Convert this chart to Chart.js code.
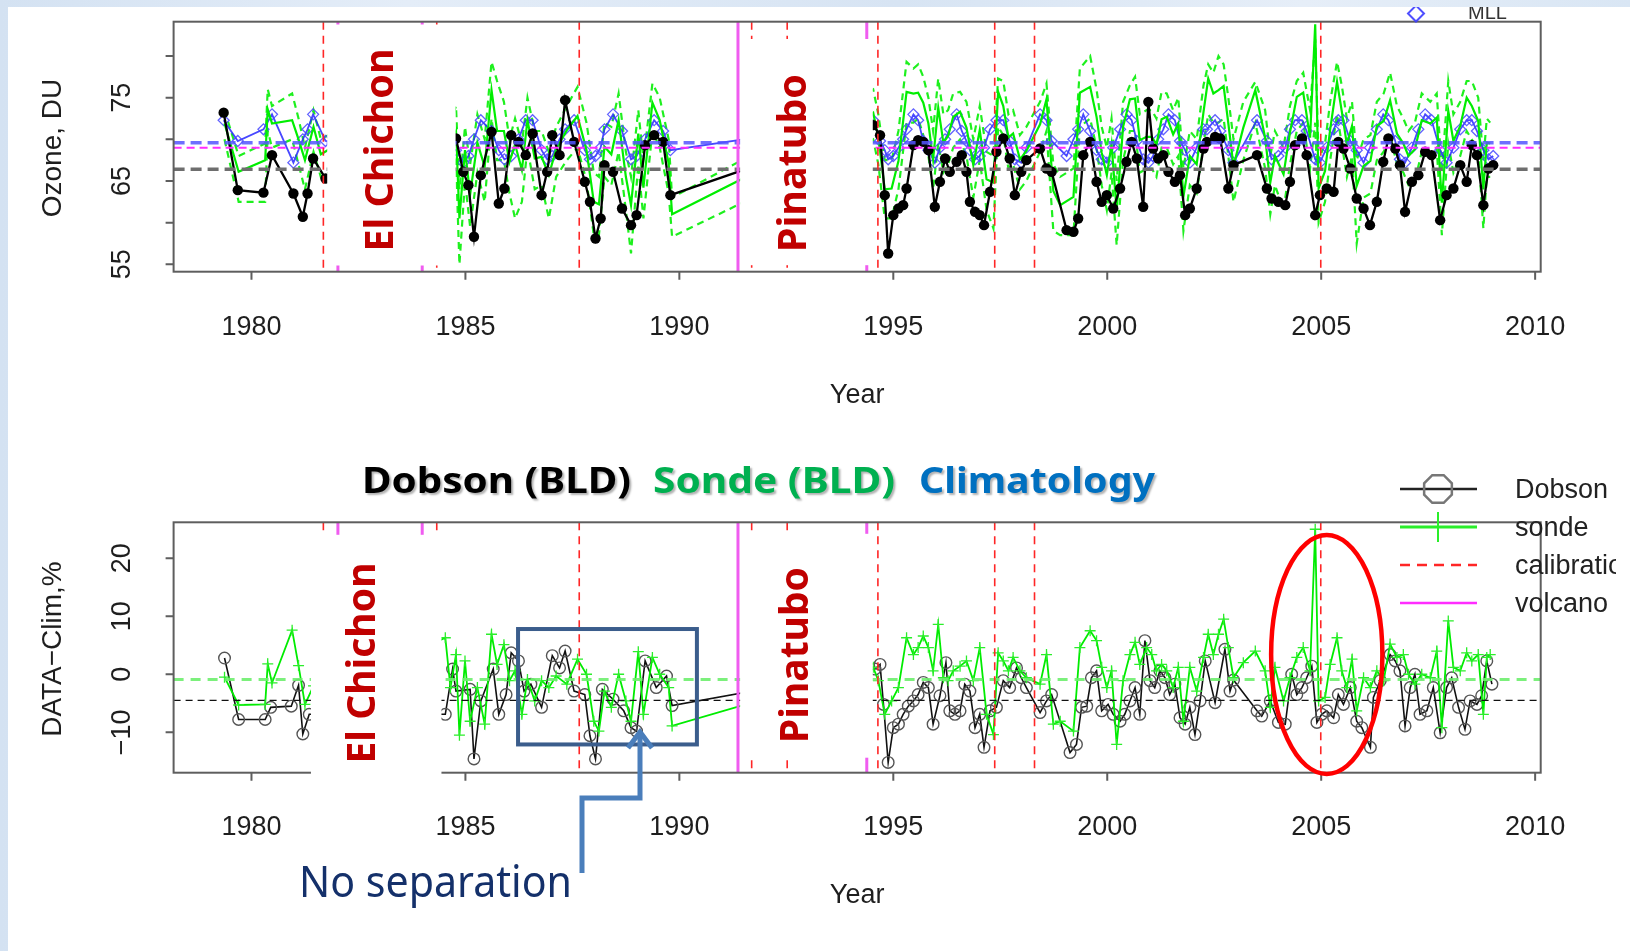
<!DOCTYPE html>
<html>
<head>
<meta charset="utf-8">
<script src="https://cdn.jsdelivr.net/npm/chart.js@4.4.1/dist/chart.umd.min.js"></script>
<style>
	html, body { margin: 0; padding: 0; width: 1630px; height: 951px; overflow: hidden; }
	body { background: linear-gradient(90deg, #d4e2f2 0%, #e4edf8 25%, #d7e4f3 55%, #e6eef8 80%, #d9e6f4 100%); }
	#sheet { position: absolute; left: 8px; top: 7px; width: 1622px; height: 944px; background: #fff; }
	canvas { position: absolute; left: 0; top: 0; }
</style>
</head>
<body>
<div id="sheet"></div>
<canvas id="ozone-du" width="1630" height="951"></canvas>
<canvas id="ozone-diff" width="1630" height="951"></canvas>
<script>
// ---- data ----
const xTickYears = [1980, 1985, 1990, 1995, 2000, 2005, 2010];
const topTickValues = [55, 60, 65, 70, 75, 80];
const topTickLabels = ['55', '', '65', '', '75', ''];
const diffTickValues = [-10, 0, 10, 20];
const diffTickLabels = ['\u221210', '0', '10', '20'];

const calibrationYears = [1981.68, 1984.33, 1987.66, 1991.69, 1992.52, 1994.64, 1997.37, 1998.30, 2004.99];
const volcanoYears = [1982.02, 1983.99, 1991.37, 1994.38];

// long-term means (dashed reference lines)
const meanClimDU = 69.6, meanSondeDU = 69.0, meanDobsonDU = 66.4;
const meanSondePct = -0.9, meanDobsonPct = -4.5;

// climatology, Jan..Dec
const climMonthlyDU = [68.0, 69.0, 70.0, 71.2, 72.3, 73.0, 72.3, 71.0, 69.8, 68.7, 67.6, 67.2];

const dobsonTopYears = [
	1979.35, 1979.68, 1980.28, 1980.48, 1980.98, 1981.20, 1981.31, 1981.44, 1981.73,
	1984.78, 1984.95, 1985.07, 1985.20, 1985.36, 1985.61, 1985.78, 1985.91, 1986.07, 1986.24,
	1986.41, 1986.57, 1986.78, 1986.91, 1987.03, 1987.20, 1987.33, 1987.54, 1987.79, 1987.91,
	1988.04, 1988.16, 1988.25, 1988.45, 1988.66, 1988.87, 1989.00, 1989.20, 1989.41, 1989.62,
	1989.79,
	1994.53, 1994.69, 1994.80, 1994.88, 1995.00, 1995.12, 1995.23, 1995.31, 1995.47, 1995.58,
	1995.70, 1995.82, 1995.97, 1996.09, 1996.21, 1996.32, 1996.48, 1996.60, 1996.71, 1996.79,
	1996.91, 1997.02, 1997.12, 1997.26, 1997.41, 1997.57, 1997.72, 1997.84, 1997.99, 1998.11,
	1998.43, 1998.58, 1998.70, 1999.05, 1999.21, 1999.32, 1999.44, 1999.60, 1999.75, 1999.87,
	1999.99, 2000.14, 2000.30, 2000.45, 2000.57, 2000.69, 2000.84, 2000.96, 2001.07, 2001.19,
	2001.31, 2001.43, 2001.58, 2001.70, 2001.82, 2001.93, 2002.09, 2002.25,
	2002.33, 2002.52, 2002.64, 2002.83, 2002.95, 2003.50, 2003.73, 2003.84, 2004.00, 2004.16,
	2004.27, 2004.39, 2004.55, 2004.66, 2004.86, 2004.97, 2005.13, 2005.29, 2005.40, 2005.52,
	2005.68, 2005.83, 2005.99, 2006.14, 2006.30, 2006.45, 2006.57, 2006.73, 2006.84, 2006.96,
	2007.12, 2007.27, 2007.43, 2007.58, 2007.78, 2007.93, 2008.09, 2008.25, 2008.40, 2008.52,
	2008.64, 2008.79, 2008.91, 2009.02
];
const dobsonTopDU = [
	73.2, 63.9, 63.6, 68.1, 63.5, 60.7, 63.5, 67.7, 65.3,
	70.1, 66.1, 64.5, 58.3, 65.7, 70.9, 62.3, 64.1, 70.5, 69.7,
	68.1, 70.7, 63.3, 66.1, 70.5, 68.1, 74.7, 69.7, 64.9, 62.5,
	58.1, 60.5, 66.9, 66.1, 61.7, 59.7, 60.9, 69.3, 70.5, 69.7,
	63.3,
	71.7, 70.5, 63.3, 56.3, 60.9, 61.7, 62.1, 64.1, 69.3, 69.9,
	69.7, 68.7, 61.9, 64.9, 67.7, 66.1, 67.3, 68.1, 66.1, 62.5,
	61.3, 60.9, 59.7, 63.7, 68.5, 70.1, 67.7, 63.3, 66.1, 67.5,
	68.9, 66.5, 66.1, 59.1, 58.9, 60.5, 68.1, 69.7, 64.9, 62.5,
	63.3, 61.7, 64.1, 67.3, 69.7, 67.7, 61.9, 74.5, 68.9, 67.7,
	68.1, 66.1, 64.9, 65.7, 60.9, 61.7, 64.1, 68.9,
	69.7, 70.3, 70.1, 64.1, 66.9, 68.1, 64.1, 62.9, 62.5, 62.1,
	64.9, 69.3, 70.1, 68.1, 60.9, 63.3, 64.1, 63.7, 69.7, 68.9,
	66.5, 62.9, 61.7, 59.7, 62.5, 67.3, 70.1, 68.9, 66.9, 61.3,
	64.9, 65.7, 68.5, 68.1, 60.3, 63.3, 64.1, 66.9, 64.9, 69.3,
	68.1, 62.1, 66.5, 66.9
];

const sondeYears = [
	1979.37, 1979.70, 1980.32, 1980.38, 1980.48, 1980.95, 1981.10, 1981.25, 1981.45, 1981.62,
	1984.53, 1984.65, 1984.78, 1984.86, 1984.99, 1985.11, 1985.28, 1985.45, 1985.61, 1985.74,
	1985.90, 1986.03, 1986.16, 1986.32, 1986.45, 1986.62, 1986.78, 1986.95, 1987.12, 1987.37,
	1987.62, 1987.83, 1988.00, 1988.12, 1988.25, 1988.41, 1988.58, 1988.75, 1988.87, 1989.04,
	1989.16, 1989.37, 1989.54, 1989.75, 1989.83,
	1994.53, 1994.65, 1994.80, 1994.96, 1995.12, 1995.31, 1995.47, 1995.58, 1995.70, 1995.82,
	1995.93, 1996.05, 1996.17, 1996.28, 1996.40, 1996.56, 1996.71, 1996.87, 1997.02, 1997.18,
	1997.34, 1997.45, 1997.57, 1997.69, 1997.80, 1997.96, 1998.11, 1998.43, 1998.58, 1998.74,
	1998.90, 1999.21, 1999.36, 1999.60, 1999.75, 1999.87, 1999.99, 2000.10, 2000.22, 2000.37,
	2000.53, 2000.65, 2000.76, 2000.92, 2001.04, 2001.15, 2001.27, 2001.39, 2001.54, 2001.66,
	2001.78, 2001.93, 2002.09, 2002.25, 2002.36, 2002.48, 2002.60, 2002.72, 2002.83, 2002.95,
	2003.18, 2003.46, 2003.69, 2003.81, 2003.92, 2004.12, 2004.27, 2004.43, 2004.58, 2004.74,
	2004.86, 2004.94, 2005.09, 2005.21, 2005.37, 2005.48, 2005.60, 2005.72, 2005.83, 2005.99,
	2006.15, 2006.30, 2006.46, 2006.61, 2006.77, 2006.92, 2007.04, 2007.19, 2007.35, 2007.55,
	2007.70, 2007.82, 2007.97, 2008.09, 2008.25, 2008.40, 2008.52, 2008.67, 2008.79, 2008.87,
	2008.95
];
const sondeTopDU = [
	71.9, 66.1, 67.5, 73.6, 71.9, 72.3, 70.0, 67.5, 71.5, 68.2,
	76.9, 69.4, 71.0, 60.5, 68.7, 63.4, 69.6, 66.7, 75.9, 71.0,
	71.0, 67.3, 69.4, 66.3, 72.3, 67.7, 67.9, 65.7, 68.8, 71.1,
	72.8, 68.7, 62.5, 62.2, 69.1, 68.2, 72.3, 65.5, 62.1, 70.7,
	64.2, 74.4, 72.3, 67.1, 61.0,
	73.2, 70.2, 64.0, 64.1, 67.4, 75.7, 75.5, 75.6, 74.4, 71.9,
	67.6, 73.8, 69.6, 70.4, 72.7, 73.3, 71.4, 66.9, 71.1, 65.2,
	64.8, 75.7, 74.0, 70.2, 70.7, 67.6, 68.6, 71.8, 74.8, 63.8,
	62.1, 63.1, 75.6, 76.3, 72.7, 68.4, 65.7, 69.4, 61.5, 71.5,
	74.8, 74.9, 69.9, 70.3, 70.3, 69.4, 72.4, 72.7, 70.6, 71.9,
	63.1, 68.0, 67.0, 73.3, 77.3, 75.5, 75.9, 76.4, 71.9, 66.8,
	71.4, 75.9, 70.2, 64.8, 68.0, 65.8, 70.8, 75.1, 75.6, 70.2,
	83.8, 64.1, 66.2, 71.2, 76.9, 73.4, 69.4, 71.6, 64.4, 66.8,
	67.4, 71.6, 72.2, 74.7, 70.7, 69.5, 68.0, 68.8, 72.3, 71.9,
	72.6, 62.4, 73.4, 69.8, 71.6, 75.0, 74.0, 72.2, 64.0, 69.6,
	69.5
];
const sondeTopHiDU = [
	73.5, 68.0, 69.5, 76.0, 74.0, 75.5, 72.5, 69.0, 73.5, 70.0,
	78.5, 72.0, 74.0, 64.0, 71.5, 67.0, 73.0, 70.0, 79.3, 77.0,
	74.5, 70.0, 72.5, 69.5, 75.0, 71.0, 71.0, 68.5, 71.5, 74.0,
	76.3, 72.0, 66.0, 65.5, 72.0, 71.5, 75.5, 68.5, 65.5, 73.5,
	67.5, 76.7, 75.0, 70.0, 63.0,
	76.0, 73.0, 67.5, 67.5, 71.0, 79.3, 78.5, 79.0, 77.5, 75.0,
	71.0, 77.3, 73.0, 73.5, 75.5, 75.7, 74.5, 70.0, 74.0, 68.5,
	68.0, 77.3, 77.0, 73.0, 73.5, 70.5, 71.5, 74.5, 76.7, 67.0,
	65.5, 66.5, 78.5, 80.0, 76.0, 71.5, 69.0, 72.5, 65.0, 74.5,
	76.5, 77.5, 73.0, 73.5, 73.5, 72.5, 75.7, 75.5, 73.5, 75.0,
	66.5, 71.0, 70.0, 76.5, 79.0, 78.0, 80.0, 79.0, 75.0, 70.0,
	74.5, 76.9, 73.5, 68.0, 71.0, 69.0, 74.0, 77.0, 78.0, 73.5,
	82.0, 67.5, 69.5, 74.5, 79.3, 76.5, 72.5, 74.5, 67.5, 70.0,
	70.5, 74.5, 75.5, 78.0, 74.0, 72.5, 71.0, 72.0, 75.5, 74.5,
	75.5, 66.0, 77.0, 73.0, 74.5, 77.0, 77.0, 75.0, 67.5, 72.5,
	72.0
];
const sondeTopLoDU = [
	70.0, 62.5, 62.5, 71.0, 69.0, 70.0, 67.0, 64.0, 68.5, 65.5,
	73.5, 65.5, 67.5, 55.0, 65.0, 59.5, 66.0, 62.5, 72.5, 67.5,
	67.5, 63.5, 60.5, 62.5, 69.0, 64.0, 64.5, 60.5, 65.5, 67.5,
	69.0, 65.0, 58.5, 58.5, 65.5, 64.5, 68.5, 61.5, 56.3, 67.0,
	60.5, 71.0, 69.0, 63.5, 58.3,
	70.0, 67.0, 60.5, 60.5, 64.0, 72.0, 72.0, 72.5, 70.5, 68.0,
	64.0, 69.5, 66.0, 67.0, 69.0, 70.0, 68.0, 63.0, 67.5, 61.5,
	59.3, 71.5, 70.5, 66.5, 67.0, 64.0, 65.0, 68.5, 71.0, 59.0,
	58.5, 58.5, 71.5, 72.5, 69.0, 64.5, 61.5, 66.0, 57.3, 67.5,
	71.0, 71.0, 66.0, 66.5, 66.5, 65.5, 69.0, 69.0, 67.0, 68.0,
	59.0, 64.5, 63.5, 69.5, 73.0, 72.0, 72.0, 72.5, 68.0, 62.5,
	67.5, 72.0, 66.5, 61.0, 64.5, 61.5, 67.0, 71.0, 72.0, 66.5,
	72.0, 60.0, 62.5, 67.5, 73.0, 69.5, 65.5, 68.0, 57.5, 63.0,
	63.5, 67.5, 68.5, 70.5, 67.0, 66.0, 64.5, 65.0, 68.5, 68.0,
	69.0, 58.5, 69.5, 66.0, 68.0, 71.0, 70.0, 68.5, 59.3, 65.5,
	65.5
];
const sondeDiffPct = [
	-0.5, -5.3, -5.2, 1.8, -1.5, 7.6, 1.5, -5.2, -2.0, -4.0,
	6.3, -2.3, 3.4, -10.5, 2.3, -8.1, -2.3, -8.6, 6.9, 1.7,
	5.1, -1.1, 0.6, -6.9, -0.9, -4.6, -1.1, -2.3, -0.3, -1.7,
	2.6, 0.0, -8.1, -9.8, -2.9, -5.7, 0.0, -4.6, -8.1, 3.9,
	-6.9, 2.9, 0.0, -2.3, -8.9,
	1.2, -1.1, -6.9, -4.6, -2.3, 6.3, 3.4, 4.6, 6.6, 4.6,
	0.6, 8.6, -0.6, -1.1, 0.6, 1.4, 2.3, -1.1, 4.6, -6.9,
	-10.4, 3.7, 2.3, 0.6, 2.9, 0.6, -0.6, -1.7, 3.4, -8.6,
	-8.1, -9.8, 4.6, 7.5, 5.8, 1.2, -2.3, 0.6, -12.1, -1.1,
	3.4, 5.5, 1.7, 4.6, 3.4, 0.6, 1.7, 0.6, -2.3, 1.2,
	-8.1, 1.2, -2.9, 2.9, 6.9, 3.4, 6.9, 9.5, 4.6, -0.6,
	2.0, 4.0, 0.6, -5.7, 1.2, -4.6, -0.6, 2.9, 4.6, 0.6,
	25.0, -4.6, -4.0, 1.7, 6.3, 0.6, -2.3, 2.6, -6.3, -0.6,
	-2.3, 0.6, -1.1, 5.2, 2.9, 3.4, 0.0, -1.7, 0.0, -0.6,
	4.0, -9.2, 9.2, 1.2, 0.6, 3.7, 2.3, 3.4, -6.9, 2.9,
	3.4
];

const dobsonDiffYears = [
	1979.37, 1979.70, 1980.32, 1980.45, 1980.93, 1981.10, 1981.20, 1981.35,
	1984.53, 1984.70, 1984.78, 1985.11, 1985.20, 1985.36, 1985.65, 1985.78, 1985.95, 1986.07,
	1986.24, 1986.37, 1986.53, 1986.78, 1987.03, 1987.20, 1987.33, 1987.54, 1987.79, 1987.91,
	1988.04, 1988.20, 1988.45, 1988.70, 1988.87, 1989.00, 1989.20, 1989.46, 1989.70, 1989.83,
	1994.57, 1994.69, 1994.77, 1994.88, 1995.00, 1995.12, 1995.23, 1995.35, 1995.47, 1995.58,
	1995.70, 1995.82, 1995.93, 1996.09, 1996.23, 1996.32, 1996.44, 1996.56, 1996.67, 1996.79,
	1996.91, 1997.02, 1997.12, 1997.26, 1997.41, 1997.57, 1997.72, 1997.88, 1997.99, 1998.11,
	1998.43, 1998.58, 1998.70, 1999.13, 1999.28, 1999.40, 1999.52, 1999.63, 1999.75, 1999.87,
	2000.02, 2000.14, 2000.30, 2000.41, 2000.53, 2000.65, 2000.76, 2000.88, 2001.00, 2001.11,
	2001.23, 2001.35, 2001.46, 2001.58, 2001.70, 2001.82, 2001.93, 2002.05, 2002.17,
	2002.29, 2002.52, 2002.75, 2002.87, 2002.95, 2003.50, 2003.61, 2003.81, 2004.00, 2004.16,
	2004.31, 2004.43, 2004.55, 2004.66, 2004.78, 2004.90, 2005.01, 2005.13, 2005.29, 2005.40,
	2005.52, 2005.68, 2005.83, 2005.95, 2006.15, 2006.22, 2006.38, 2006.61, 2006.73, 2006.84,
	2006.96, 2007.08, 2007.19, 2007.31, 2007.47, 2007.62, 2007.78, 2007.93, 2008.05, 2008.21,
	2008.36, 2008.48, 2008.64, 2008.75, 2008.87, 2008.99
];
const dobsonDiffPct = [
	2.8, -7.8, -7.8, -5.7, -5.5, -1.9, -10.3, -6.9,
	-6.9, 0.9, -2.9, -2.6, -14.6, -4.6, 0.9, -6.9, -3.5, 3.7,
	2.3, -2.9, -1.7, -5.7, 3.2, 1.1, 4.0, -2.9, -3.5, -10.6,
	-14.6, -2.6, -4.3, -6.3, -9.2, -9.8, 2.3, -2.3, -0.3, -5.4,
	0.9, 1.7, -5.2, -15.2, -9.2, -8.6, -6.9, -5.5, -4.6, -3.5,
	-1.4, -2.3, -8.6, -3.7, 2.0, -6.3, -6.9, -6.3, -1.7, -2.9,
	-9.2, -6.9, -12.6, -6.3, -5.7, -1.1, -2.3, 1.1, -0.6, -2.3,
	-6.6, -4.6, -3.5, -13.5, -12.1, -5.7, -5.5, -0.6, 0.6, -6.3,
	-5.2, -6.9, -8.1, -6.9, -4.6, -2.3, -6.9, 5.8, -1.1, -2.3,
	0.6, -0.6, -3.5, -1.7, -7.5, -8.6, -5.7, -10.4, -4.6,
	2.3, -4.9, 4.3, -2.9, -1.0, -6.3, -7.2, -4.6, -8.3, -8.6,
	0.0, -3.5, -2.3, -0.6, 1.4, -8.3, -6.9, -6.3, -7.5, -3.5,
	-5.2, -2.3, -8.1, -9.2, -12.6, -4.0, -1.1, 3.4, 2.3, 0.6,
	-8.9, -2.3, 0.0, -6.9, -6.3, -2.3, -10.1, -2.3, -0.6, -5.7,
	-9.5, -4.6, -5.2, -3.7, 2.3, -1.7
];

const headlineParts = ['Dobson (BLD)', 'Sonde (BLD)', 'Climatology'];
const legendLabels = ['Dobson', 'sonde', 'calibration', 'volcano'];

// ---- layout ----
const X_MIN = 1978.18, X_MAX = 2010.13;
const FONT_R = '"Liberation Sans", Arial, sans-serif';

const toPoints = (xs, ys) => xs.map((x, i) => ({ x: x, y: ys[i] }));
const flatLine = v => [{ x: X_MIN, y: v }, { x: X_MAX, y: v }];
const climAt = t => climMonthlyDU[Math.min(11, Math.floor((t - Math.floor(t)) * 12))];

function drawEventLines(chart) {
	const { ctx, chartArea: a, scales: { x } } = chart;
	ctx.save();
	ctx.strokeStyle = '#ff2626';
	ctx.lineWidth = 1.6;
	ctx.setLineDash([8, 6]);
	calibrationYears.forEach(v => {
		const px = x.getPixelForValue(v);
		ctx.beginPath(); ctx.moveTo(px, a.top); ctx.lineTo(px, a.bottom); ctx.stroke();
	});
	ctx.setLineDash([]);
	ctx.strokeStyle = '#f05cf0';
	ctx.lineWidth = 3;
	volcanoYears.forEach(v => {
		const px = x.getPixelForValue(v);
		ctx.beginPath(); ctx.moveTo(px, a.top); ctx.lineTo(px, a.bottom); ctx.stroke();
	});
	ctx.restore();
}

function drawFrame(chart, tickVals, tickLabels, yTitle, yTitleCenter, xLabelY, yearY) {
	const { ctx, chartArea: a, scales: { x, y } } = chart;
	ctx.save();
	ctx.strokeStyle = '#5e5e5e';
	ctx.lineWidth = 2;
	ctx.strokeRect(a.left, a.top, a.right - a.left, a.bottom - a.top);
	ctx.beginPath();
	xTickYears.forEach(v => {
		const px = x.getPixelForValue(v);
		ctx.moveTo(px, a.bottom); ctx.lineTo(px, a.bottom + 8);
	});
	tickVals.forEach(v => {
		const py = y.getPixelForValue(v);
		ctx.moveTo(a.left, py); ctx.lineTo(a.left - 8, py);
	});
	ctx.stroke();

	ctx.fillStyle = '#1e1e1e';
	ctx.font = '27px ' + FONT_R;
	ctx.textAlign = 'center';
	ctx.textBaseline = 'middle';
	xTickYears.forEach(v => ctx.fillText(String(v), x.getPixelForValue(v), xLabelY));
	tickVals.forEach((v, i) => {
		if (!tickLabels[i]) return;
		ctx.save();
		ctx.translate(123, y.getPixelForValue(v));
		ctx.rotate(-Math.PI / 2);
		ctx.fillText(tickLabels[i], 0, 0);
		ctx.restore();
	});
	ctx.fillText('Year', (a.left + a.right) / 2, yearY);
	ctx.save();
	ctx.translate(53, yTitleCenter);
	ctx.rotate(-Math.PI / 2);
	ctx.font = '28px ' + FONT_R;
	ctx.fillText(yTitle, 0, 0);
	ctx.restore();
	ctx.restore();
}

function whitePatch(chart, x0v, x1v, yTop, yBottom) {
	const { ctx, scales: { x } } = chart;
	const l = x.getPixelForValue(x0v), r = x.getPixelForValue(x1v);
	ctx.save();
	ctx.fillStyle = '#ffffff';
	ctx.fillRect(l, yTop, r - l, yBottom - yTop);
	ctx.restore();
}

function rotLabel(ctx, text, baseX, centerY, len) {
	ctx.save();
	ctx.font = 'bold 40px "Noto Sans"';
	ctx.fillStyle = '#c00000';
	ctx.textAlign = 'center';
	ctx.textBaseline = 'alphabetic';
	const w = ctx.measureText(text).width;
	ctx.translate(baseX, centerY);
	ctx.rotate(-Math.PI / 2);
	ctx.scale(len / w, 1);
	ctx.fillText(text, 0, 0);
	ctx.restore();
}

function baseOptions(padding, ymin, ymax) {
	return {
		responsive: false,
		animation: false,
		devicePixelRatio: 1,
		events: [],
		layout: { padding: padding },
		elements: { line: { tension: 0 } },
		plugins: { legend: { display: false }, tooltip: { enabled: false } },
		scales: {
			x: { type: 'linear', display: false, min: X_MIN, max: X_MAX },
			y: { type: 'linear', display: false, min: ymin, max: ymax }
		}
	};
}

document.addEventListener('DOMContentLoaded', function () {
	const ctx = document.getElementById('ozone-du').getContext('2d');
	const ctx2 = document.getElementById('ozone-diff').getContext('2d');

	// ---------- upper panel: ozone in DU ----------
	new Chart(ctx, {
		type: 'line',
		data: {
			datasets: [
				{ data: flatLine(meanClimDU), borderColor: 'rgba(85,85,255,0.85)', borderWidth: 3.5, borderDash: [11, 6], pointRadius: 0 },
				{ data: flatLine(meanSondeDU), borderColor: '#ff2cff', borderWidth: 2, borderDash: [8, 5], pointRadius: 0 },
				{ data: flatLine(meanDobsonDU), borderColor: '#6e6e6e', borderWidth: 3.5, borderDash: [11, 6], pointRadius: 0 },
				{
					label: 'Dobson', data: toPoints(dobsonTopYears, dobsonTopDU),
					borderColor: '#000', borderWidth: 2.3,
					pointRadius: 5.2, pointBackgroundColor: '#000', pointBorderWidth: 0
				},
				{ label: 'sonde', data: toPoints(sondeYears, sondeTopDU), borderColor: '#00ee00', borderWidth: 2.2, pointRadius: 0 },
				{
					label: 'MLL', data: dobsonTopYears.map(t => ({ x: t, y: climAt(t) })),
					borderColor: 'rgba(40,40,255,0.85)', borderWidth: 1.8,
					pointStyle: 'rectRot', pointRadius: 5.5, pointBackgroundColor: 'rgba(0,0,0,0)',
					pointBorderColor: 'rgba(70,70,255,0.85)', pointBorderWidth: 1.3
				},
				{ label: 'sonde hi', data: toPoints(sondeYears, sondeTopHiDU), borderColor: '#1ef01e', borderWidth: 2.2, borderDash: [7, 5], pointRadius: 0 },
				{ label: 'sonde lo', data: toPoints(sondeYears, sondeTopLoDU), borderColor: '#1ef01e', borderWidth: 2.2, borderDash: [7, 5], pointRadius: 0 }
			]
		},
		options: baseOptions({ left: 173.6, right: 89.3, top: 21.7, bottom: 679.3 }, 54.11, 84.12),
		plugins: [{
			id: 'rDecor',
			afterDraw: function (chart) {
				const c = chart.ctx;
				const a = chart.chartArea;
				drawEventLines(chart);
				drawFrame(chart, topTickValues, topTickLabels, 'Ozone, DU', 148, 328, 396);
				whitePatch(chart, 1981.77, 1984.77, a.top + 2.8, a.bottom - 6.2);
				whitePatch(chart, 1991.42, 1994.52, 39, a.bottom - 6.5);
				rotLabel(c, 'El Chichon', 393, 150, 203);
				rotLabel(c, 'Pinatubo', 806, 163, 178);

				// remains of the legend above the frame
				c.save();
				c.beginPath(); c.rect(0, 7, 1630, 30); c.clip();
				c.strokeStyle = 'rgba(60,60,255,0.9)';
				c.lineWidth = 2;
				c.beginPath();
				c.moveTo(1416, 5.5); c.lineTo(1424, 13.5); c.lineTo(1416, 21.5); c.lineTo(1408, 13.5); c.closePath();
				c.stroke();
				c.fillStyle = '#333';
				c.font = '20px ' + FONT_R;
				c.textAlign = 'left';
				c.textBaseline = 'alphabetic';
				c.fillText('MLL', 1468, 19);
				c.restore();
			}
		}]
	});

	// ---------- lower panel: DATA - Clim in % ----------
	new Chart(ctx2, {
		type: 'line',
		data: {
			datasets: [
				{ data: flatLine(meanSondePct), borderColor: 'rgba(110,238,110,0.9)', borderWidth: 3, borderDash: [10, 7], pointRadius: 0 },
				{ data: flatLine(meanDobsonPct), borderColor: '#111', borderWidth: 1.3, borderDash: [7, 5], pointRadius: 0 },
				{
					label: 'sonde', data: toPoints(sondeYears, sondeDiffPct),
					borderColor: '#00ec00', borderWidth: 1.8,
					pointStyle: 'cross', pointRadius: 5.5, pointBorderColor: '#2aee2a', pointBorderWidth: 1.3
				},
				{
					label: 'Dobson', data: toPoints(dobsonDiffYears, dobsonDiffPct),
					borderColor: '#111', borderWidth: 1.6,
					pointStyle: 'circle', pointRadius: 5.8, pointBackgroundColor: 'rgba(0,0,0,0)',
					pointBorderColor: '#555', pointBorderWidth: 1.4
				}
			]
		},
		options: baseOptions({ left: 173.6, right: 89.3, top: 522.3, bottom: 178.3 }, -16.97, 26.2),
		plugins: [{
			id: 'rDecor2',
			afterDraw: function (chart) {
				const c = chart.ctx;
				const a = chart.chartArea;
				const xs = chart.scales.x, ys = chart.scales.y;
				drawEventLines(chart);
				drawFrame(chart, diffTickValues, diffTickLabels, 'DATA\u2212Clim,%', 649, 828, 896);
				whitePatch(chart, 1981.39, 1984.44, a.top + 12.5, 782);
				whitePatch(chart, 1991.42, 1994.52, a.top + 11.5, a.bottom - 15);
				rotLabel(c, 'El Chichon', 375, 663, 201);
				rotLabel(c, 'Pinatubo', 808, 655, 176);

				// box around the 1986-1990 period
				c.save();
				c.strokeStyle = '#3b5d8c';
				c.lineWidth = 4;
				const bx0 = xs.getPixelForValue(1986.23), bx1 = xs.getPixelForValue(1990.41);
				const by0 = ys.getPixelForValue(7.8), by1 = ys.getPixelForValue(-12.1);
				c.strokeRect(bx0, by0, bx1 - bx0, by1 - by0);

				// ellipse around the 2005 spike
				c.strokeStyle = '#ff0000';
				c.lineWidth = 4.5;
				const ex = xs.getPixelForValue(2005.13), ey = ys.getPixelForValue(3.4);
				const rx = xs.getPixelForValue(2005.13 + 1.3) - ex;
				const ry = ys.getPixelForValue(3.4) - ys.getPixelForValue(3.4 + 20.6);
				c.beginPath(); c.ellipse(ex, ey, rx, ry, 0, 0, Math.PI * 2); c.stroke();

				// callout arrow
				c.strokeStyle = '#4a7ebb';
				c.lineWidth = 5;
				c.lineJoin = 'miter';
				c.beginPath();
				c.moveTo(582, 873); c.lineTo(582, 798); c.lineTo(640, 798); c.lineTo(640, 734);
				c.stroke();
				c.beginPath();
				c.moveTo(628, 748); c.lineTo(640, 732); c.lineTo(652, 748);
				c.stroke();

				// "No separation"
				c.font = '43px "Noto Sans"';
				c.fillStyle = '#14306a';
				c.textAlign = 'left';
				c.textBaseline = 'alphabetic';
				const ns = 'No separation';
				const nw = c.measureText(ns).width;
				c.save(); c.translate(299, 897); c.scale(273 / nw, 1); c.fillText(ns, 0, 0); c.restore();

				// headline
				const starts = [362, 653, 919], widths = [269, 242, 236];
				const colors = ['#000000', '#00b050', '#0070c0'];
				c.font = 'bold 36px "Noto Sans"';
				c.shadowColor = 'rgba(0,0,0,0.3)';
				c.shadowOffsetX = 2; c.shadowOffsetY = 2; c.shadowBlur = 2;
				headlineParts.forEach((t, i) => {
					const w = c.measureText(t).width;
					c.save();
					c.translate(starts[i], 492.5);
					c.scale(widths[i] / w, 1);
					c.fillStyle = colors[i];
					c.fillText(t, 0, 0);
					c.restore();
				});
				c.restore();

				// legend (right edge is cut like the original)
				c.save();
				c.beginPath(); c.rect(0, 0, 1616, 951); c.clip();
				const rows = [489, 527, 565, 603];
				c.lineWidth = 2.5;
				c.strokeStyle = '#222';
				c.beginPath(); c.moveTo(1400, rows[0]); c.lineTo(1477, rows[0]); c.stroke();
				c.strokeStyle = '#777';
				c.beginPath();
				for (let k = 0; k < 8; k++) {
					const ang = Math.PI / 8 + k * Math.PI / 4;
					const px = 1438 + 15 * Math.cos(ang), py = rows[0] + 15 * Math.sin(ang);
					if (k === 0) c.moveTo(px, py); else c.lineTo(px, py);
				}
				c.closePath(); c.stroke();
				c.strokeStyle = '#2aee2a';
				c.lineWidth = 3;
				c.beginPath(); c.moveTo(1400, rows[1]); c.lineTo(1477, rows[1]); c.stroke();
				c.lineWidth = 2;
				c.beginPath(); c.moveTo(1438, rows[1] - 15); c.lineTo(1438, rows[1] + 15); c.stroke();
				c.strokeStyle = '#ff2626';
				c.lineWidth = 2.5;
				c.setLineDash([10, 7]);
				c.beginPath(); c.moveTo(1400, rows[2]); c.lineTo(1477, rows[2]); c.stroke();
				c.setLineDash([]);
				c.strokeStyle = '#ff2cff';
				c.beginPath(); c.moveTo(1400, rows[3]); c.lineTo(1477, rows[3]); c.stroke();
				c.fillStyle = '#222';
				c.font = '27px ' + FONT_R;
				c.textAlign = 'left';
				c.textBaseline = 'alphabetic';
				legendLabels.forEach((t, i) => c.fillText(t, 1515, rows[i] + 9));
				c.restore();
			}
		}]
	});
});
</script>
</body>
</html>
